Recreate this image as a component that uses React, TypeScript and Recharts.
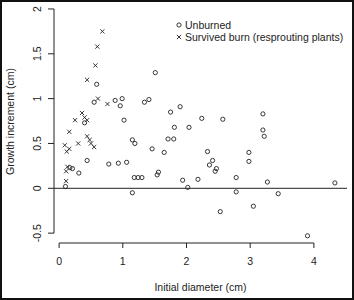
import React from 'react';
import { ScatterChart, Scatter, XAxis, YAxis, ReferenceLine, Legend } from 'recharts';

// initial diameter (cm), growth increment (cm)
const unburned: [number, number][] = [
  [0.1, 0.02], [0.17, 0.23], [0.21, 0.22], [0.31, 0.17], [0.4, 0.73], [0.44, 0.31],
  [0.55, 0.96], [0.59, 1.16], [0.78, 0.27], [0.88, 0.98], [0.93, 0.28], [0.96, 0.92],
  [0.99, 1.0], [1.02, 0.76], [1.06, 0.29], [1.15, 0.54], [1.19, 0.5], [1.15, -0.05],
  [1.18, 0.12], [1.24, 0.12], [1.3, 0.12], [1.34, 0.96], [1.41, 0.99], [1.46, 0.44],
  [1.51, 1.29], [1.54, 0.15], [1.56, 0.18], [1.65, 0.4], [1.71, 0.55], [1.75, 0.85],
  [1.8, 0.55], [1.81, 0.68], [1.9, 0.91], [1.94, 0.09], [2.02, 0.01], [2.04, 0.68],
  [2.18, 0.1], [2.24, 0.78], [2.33, 0.41], [2.36, 0.26], [2.41, 0.31], [2.45, 0.19],
  [2.47, 0.22], [2.53, -0.26], [2.57, 0.77], [2.78, 0.12], [2.78, -0.04], [2.98, 0.4],
  [2.98, 0.3], [3.05, -0.2], [3.2, 0.83], [3.2, 0.65], [3.22, 0.58], [3.27, 0.07],
  [3.44, -0.06], [3.9, -0.53], [4.33, 0.06],
];

const resprouting: [number, number][] = [
  [0.68, 1.75], [0.6, 1.58], [0.57, 1.37], [0.44, 1.21], [0.61, 1.0], [0.76, 0.94],
  [0.25, 0.76], [0.36, 0.84], [0.4, 0.79], [0.44, 0.76], [0.16, 0.63], [0.3, 0.5],
  [0.44, 0.58], [0.48, 0.54], [0.5, 0.5], [0.55, 0.46], [0.09, 0.48], [0.16, 0.44],
  [0.12, 0.41], [0.13, 0.24], [0.11, 0.19], [0.11, 0.08],
];

const xTicks = [0, 1, 2, 3, 4];
const yTicks = [-0.5, 0, 0.5, 1, 1.5, 2];
const legendLabels = ['Unburned', 'Survived burn (resprouting plants)'];

const X_DOMAIN: [number, number] = [-0.08, 4.52];
const Y_DOMAIN: [number, number] = [-0.61, 2.1];
const INK = '#222';
const FONT = '"Liberation Sans", Arial, sans-serif';

const toPoints = (rows: [number, number][]) => rows.map(([x, y]) => ({ x, y }));

function Ring(props: any) {
  return <circle cx={props.cx} cy={props.cy} r={2.1} fill="none" stroke={INK} strokeWidth={0.9} />;
}

function Cross(props: any) {
  const { cx, cy } = props;
  const d = 2.1;
  return (
    <g stroke={INK} strokeWidth={0.9}>
      <line x1={cx - d} y1={cy - d} x2={cx + d} y2={cy + d} />
      <line x1={cx - d} y1={cy + d} x2={cx + d} y2={cy - d} />
    </g>
  );
}

function XTick(props: any) {
  return (
    <text x={props.x} y={props.y + 11} textAnchor="middle" dominantBaseline="central" fontSize={10.5} fill={INK}>
      {props.payload.value}
    </text>
  );
}

function YTick(props: any) {
  const x = props.x - 9;
  return (
    <text x={x} y={props.y} transform={`rotate(-90, ${x}, ${props.y})`} textAnchor="middle" dominantBaseline="central" fontSize={10.5} fill={INK}>
      {props.payload.value}
    </text>
  );
}

function LegendBox() {
  return (
    <div style={{ fontSize: 10.5, lineHeight: '12px', color: INK, fontFamily: FONT, whiteSpace: 'nowrap' }}>
      {legendLabels.map((label, i) => (
        <div key={label} style={{ display: 'flex', alignItems: 'center', height: 12 }}>
          <svg width={8} height={8} style={{ marginRight: 2 }}>
            {i === 0 ? <Ring cx={4} cy={4} /> : <Cross cx={4} cy={4} />}
          </svg>
          {label}
        </div>
      ))}
    </div>
  );
}

export default function App() {
  return (
    <div style={{ position: 'absolute', left: 0, top: 0, width: 354, height: 300, background: '#fff', fontFamily: FONT }}>
      <ScatterChart width={354} height={300} margin={{ top: 0, right: 7, bottom: 0, left: 0 }}>
        <XAxis
          type="number"
          dataKey="x"
          domain={X_DOMAIN}
          ticks={xTicks}
          allowDataOverflow
          height={57}
          axisLine={false}
          tickLine={{ stroke: INK }}
          tickSize={5}
          tick={<XTick />}
          label={{ value: 'Initial diameter (cm)', position: 'insideBottom', offset: 9, fontSize: 10.5, fill: INK }}
        />
        <YAxis
          type="number"
          dataKey="y"
          domain={Y_DOMAIN}
          ticks={yTicks}
          allowDataOverflow
          width={54}
          axisLine={false}
          tickLine={{ stroke: INK }}
          tickSize={6}
          tick={<YTick />}
          label={{
            content: ({ viewBox }: any) => {
              const cy = viewBox.y + viewBox.height / 2;
              return (
                <text x={10} y={cy} transform={`rotate(-90, 10, ${cy})`} textAnchor="middle" dominantBaseline="central" fontSize={10.5} fill={INK}>
                  Growth increment (cm)
                </text>
              );
            },
          }}
        />
        <ReferenceLine segment={[{ x: 0, y: Y_DOMAIN[0] }, { x: 4, y: Y_DOMAIN[0] }]} stroke={INK} ifOverflow="visible" />
        <ReferenceLine segment={[{ x: X_DOMAIN[0], y: -0.5 }, { x: X_DOMAIN[0], y: 2 }]} stroke={INK} ifOverflow="visible" />
        <ReferenceLine y={0} stroke={INK} ifOverflow="visible" />
        <Scatter name="Unburned" data={toPoints(unburned)} shape={<Ring />} isAnimationActive={false} />
        <Scatter name="Survived" data={toPoints(resprouting)} shape={<Cross />} isAnimationActive={false} />
        <Legend
          layout="vertical"
          align="center"
          verticalAlign="middle"
          content={<LegendBox />}
          wrapperStyle={{ left: 175, top: 18.5, width: 'auto' }}
        />
      </ScatterChart>
      <div style={{ position: 'absolute', inset: 0, border: '2px solid #111', pointerEvents: 'none' }} />
    </div>
  );
}
